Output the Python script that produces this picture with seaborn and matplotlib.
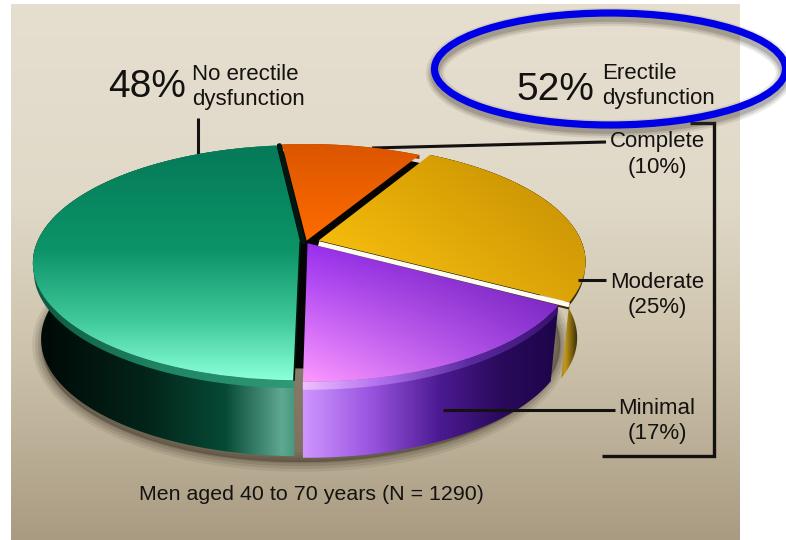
import numpy as np
import matplotlib
matplotlib.use("Agg")
import matplotlib.pyplot as plt
import matplotlib.transforms as mtrans
from matplotlib.colors import to_rgb
from matplotlib.patches import Ellipse, PathPatch
from matplotlib.path import Path
import seaborn as sns

# data
categories = ["Complete", "Moderate", "Minimal", "No erectile\ndysfunction"]
shares = [10, 25, 17, 48]
affected_label = "Erectile\ndysfunction"
footer = "Men aged 40 to 70 years (N = 1290)"

sns.set_theme(style="white")
plt.rcParams["font.family"] = ["Liberation Sans", "DejaVu Sans"]

INK = "#141210"
CX, CY = 306.0, 242.0
DEPTH, BEVEL = 76.0, 8.0
P, A = 0.1745, -71.7
RX = 263.0


def project(u, v, d=0.0):
    """Pie coordinates to pixels, with a tilted view and a drop of d pixels."""
    w = 1 + P * v
    x = CX + RX * u / w * (1 - 0.03 * d / DEPTH)
    y = (CY + A * v) / w + d
    return x, y


class Tilt(mtrans.Transform):
    input_dims = 2
    output_dims = 2

    def transform_non_affine(self, xy):
        xy = np.asarray(xy, dtype=float)
        return np.column_stack(project(xy[:, 0], xy[:, 1]))


def arc(wedge, r=1.0):
    t = np.radians(np.linspace(wedge.theta1, wedge.theta2, 120))
    return wedge.center[0] + r * np.cos(t), wedge.center[1] + r * np.sin(t)


def band(wedge, d0, d1):
    """Outer wall of a wedge between two drops, as a pixel path."""
    u, v = arc(wedge)
    x0, y0 = project(u, v, d0)
    x1, y1 = project(u, v, d1)
    pts = np.r_[np.c_[x0, y0], np.c_[x1, y1][::-1], [[x0[0], y0[0]]]]
    return Path(pts, closed=True)


def paint(ax, grid, clip, z):
    im = ax.imshow(grid, extent=(0, 786, 540, 0), aspect="auto",
                   interpolation="bilinear", zorder=z)
    if isinstance(clip, Path):
        patch = PathPatch(clip, fc="none", ec="none", transform=ax.transData)
        ax.add_patch(patch)
        im.set_clip_path(patch)
    else:
        im.set_clip_path(clip)
    return im


def ramp(stops, axis):
    """Piecewise colour ramp along pixel x or y, stops are (pixel, colour)."""
    pos = [s[0] for s in stops]
    rgb = np.array([to_rgb(s[1]) for s in stops])
    xs = np.arange(786) + 0.5
    ys = np.arange(540) + 0.5
    t = xs if axis == "x" else ys
    line = np.column_stack([np.interp(t, pos, rgb[:, i]) for i in range(3)])
    if axis == "x":
        return np.repeat(line[None, :, :], 540, axis=0)
    return np.repeat(line[:, None, :], 786, axis=1)


def corners(x0, x1, y0, y1, tl, tr, bl, br):
    xs = np.clip((np.arange(786) + 0.5 - x0) / (x1 - x0), 0, 1)[None, :, None]
    ys = np.clip((np.arange(540) + 0.5 - y0) / (y1 - y0), 0, 1)[:, None, None]
    tl, tr, bl, br = [np.array(to_rgb(c))[None, None, :] for c in (tl, tr, bl, br)]
    return (tl * (1 - xs) + tr * xs) * (1 - ys) + (bl * (1 - xs) + br * xs) * ys


fig, ax = plt.subplots(figsize=(7.86, 5.4), dpi=100, facecolor="white")
fig.subplots_adjust(0, 0, 1, 1)

# background panel
bg = ax.imshow(ramp([(4, "#e6dfd0"), (200, "#e0d9c8"), (340, "#cfc5ae"),
                     (540, "#a99b82")], "y"),
               extent=(0, 786, 540, 0), aspect="auto", zorder=0)
bg.set_clip_path(plt.Rectangle((11, 4), 729, 536, transform=ax.transData))

# dark core seen through the gaps between the slices
core, _ = ax.pie([1], colors=["#050403"], radius=0.93, wedgeprops={"linewidth": 0})
core[0].set_transform(Tilt() + ax.transData)
core[0].set_zorder(2)

wedges, _ = ax.pie(shares, colors=["none"] * 4, startangle=96.3, counterclock=False,
                   explode=[0.012, 0.05, 0.012, 0.022],
                   wedgeprops={"linewidth": 0})
orange, yellow, purple, green = wedges
for w in wedges:
    w.set_transform(Tilt() + ax.transData)
    w.set_zorder(8)

# soft shadow of the whole pie
t = np.radians(np.linspace(0, 360, 240))
sx, sy = project(np.cos(t), np.sin(t) * 1.0, DEPTH)
for lw, a in zip([14, 10, 6, 2], [0.10, 0.14, 0.18, 0.25]):
    ax.add_patch(PathPatch(Path(np.c_[sx - 5, sy + 6], closed=False), fc="#4a4030",
                           ec="#4a4030", lw=lw, alpha=a, zorder=1))

# walls
wall_stops = {
    "yellow": [(550, "#3a2a04"), (565, "#c49a1c"), (580, "#1e1602")],
    "green": [(44, "#000a07"), (150, "#03251a"), (225, "#064a35"),
              (282, "#5fa892"), (300, "#3f9078")],
    "purple": [(303, "#cf96ff"), (370, "#9a55e0"), (440, "#4b1a92"),
               (500, "#2a0a5c"), (560, "#1c0548")],
}
bevel_stops = {
    "yellow": [(520, "#5a4304"), (580, "#3a2a04")],
    "orange": [(290, "#8a3a00"), (420, "#8a3a00")],
    "green": [(44, "#0e5c44"), (160, "#1f8565"), (298, "#2f9a78")],
    "purple": [(303, "#f0c0ff"), (380, "#b070ee"), (470, "#5a2aa0"),
               (560, "#3a1070")],
}
paint(ax, ramp(wall_stops["yellow"], "x"), band(yellow, 0, DEPTH), 3)
paint(ax, ramp(wall_stops["green"], "x"), band(green, 0, DEPTH), 4)
paint(ax, ramp(wall_stops["purple"], "x"), band(purple, 0, DEPTH), 4)
paint(ax, ramp(bevel_stops["yellow"], "x"), band(yellow, 0, 4), 5)
paint(ax, ramp(bevel_stops["orange"], "x"), band(orange, 0, 4), 5)
paint(ax, ramp(bevel_stops["green"], "x"), band(green, 0, BEVEL), 5)
paint(ax, ramp(bevel_stops["purple"], "x"), band(purple, 0, BEVEL), 5)

# top faces
paint(ax, ramp([(146, "#057a58"), (250, "#0c9468"), (320, "#3fc89a"),
                (378, "#88ffd6")], "y"), green, 7)
paint(ax, ramp([(146, "#dc5600"), (240, "#ff6c00")], "y"), orange, 7)
paint(ax, corners(320, 575, 160, 300, "#e6ac04", "#c48f04", "#ffc812", "#dca408"),
      yellow, 7)
paint(ax, corners(305, 565, 245, 385, "#9a30f0", "#6016a8", "#ff9cff", "#a040e8"),
      purple, 7)

# the white lip under the yellow slice and the black cut beside green
ux, vy = np.array(wedges[1].center), None
t1 = np.radians(yellow.theta1)
u = np.array([yellow.center[0], yellow.center[0] + np.cos(t1)])
v = np.array([yellow.center[1], yellow.center[1] + np.sin(t1)])
x, y = project(u, v)
ax.plot(x, y + 6, color="#3a2c08", lw=2.2, zorder=6, solid_capstyle="butt")
ax.plot(x, y + 3, color="#fffdf0", lw=3.4, zorder=9, solid_capstyle="butt")

t2 = np.radians(green.theta2)
t1 = np.radians(green.theta1)
u = np.array([green.center[0], green.center[0] + np.cos(t2)])
v = np.array([green.center[1], green.center[1] + np.sin(t2)])
x, y = project(u, v)
ax.plot(x, y, color="#02170f", lw=1.2, zorder=9)
u = green.center[0] + np.cos(t1)
v = green.center[1] + np.sin(t1)
x0, y0 = project(u, v)
x1, y1 = project(u, v, DEPTH)
ax.plot([x0 + 2, x1 + 2], [y0, y1], color="#020806", lw=2.4, zorder=6)
u = np.array([green.center[0], green.center[0] + np.cos(t1)])
v = np.array([green.center[1], green.center[1] + np.sin(t1)])
x, y = project(u, v)
ax.plot(x + 3, y, color="#02170f", lw=3.5, zorder=6)

# leader lines and bracket
LEAD = dict(color=INK, lw=2.2, solid_capstyle="butt")
ax.plot([198, 198], [118, 155], zorder=2, **LEAD)
ax.plot([372, 606], [148, 142], zorder=2, **LEAD)
ax.plot([578, 606], [280, 280], zorder=9, **LEAD)
ax.plot([443, 615], [410, 410], zorder=9, **LEAD)
ax.plot([690, 714, 714, 602], [123, 123, 456, 456], zorder=2,
        color=INK, lw=2.4, solid_joinstyle="miter", solid_capstyle="butt")

# labels
big = dict(color=INK, fontsize=28, va="baseline", zorder=12)
small = dict(color=INK, fontsize=16, zorder=12)
ax.text(108, 97, f"{shares[3]}%", **big)
ax.text(192, 80, categories[3].split("\n")[0], va="baseline", **small)
ax.text(192, 105, categories[3].split("\n")[1], va="baseline", **small)
ax.text(516, 100, f"{sum(shares[:3])}%", **big)
ax.text(602, 79, affected_label.split("\n")[0], va="baseline", **small)
ax.text(602, 104, affected_label.split("\n")[1], va="baseline", **small)
for name, share, ly in zip(categories[:3], shares[:3], [142, 282, 409]):
    ax.text(657, ly, name, ha="center", va="center", **small)
    ax.text(657, ly + 25, f"({share}%)", ha="center", va="center", **small)
ax.text(139, 494, footer, color=INK, fontsize=15.4, va="center", zorder=12)

# blue ring with its shadow
for lw, a in zip([13, 10, 7], [0.10, 0.14, 0.2]):
    ax.add_patch(Ellipse((610, 73), 350, 112, fc="none", ec="#3a3428", lw=lw,
                         alpha=a, zorder=10))
ax.add_patch(Ellipse((610, 69), 351, 112, fc="none", ec="#0000e6", lw=5.2, zorder=11))

ax.set_aspect("auto")
ax.set_xlim(0, 786)
ax.set_ylim(540, 0)
ax.axis("off")
fig.savefig("out.png", dpi=100, facecolor="white")
